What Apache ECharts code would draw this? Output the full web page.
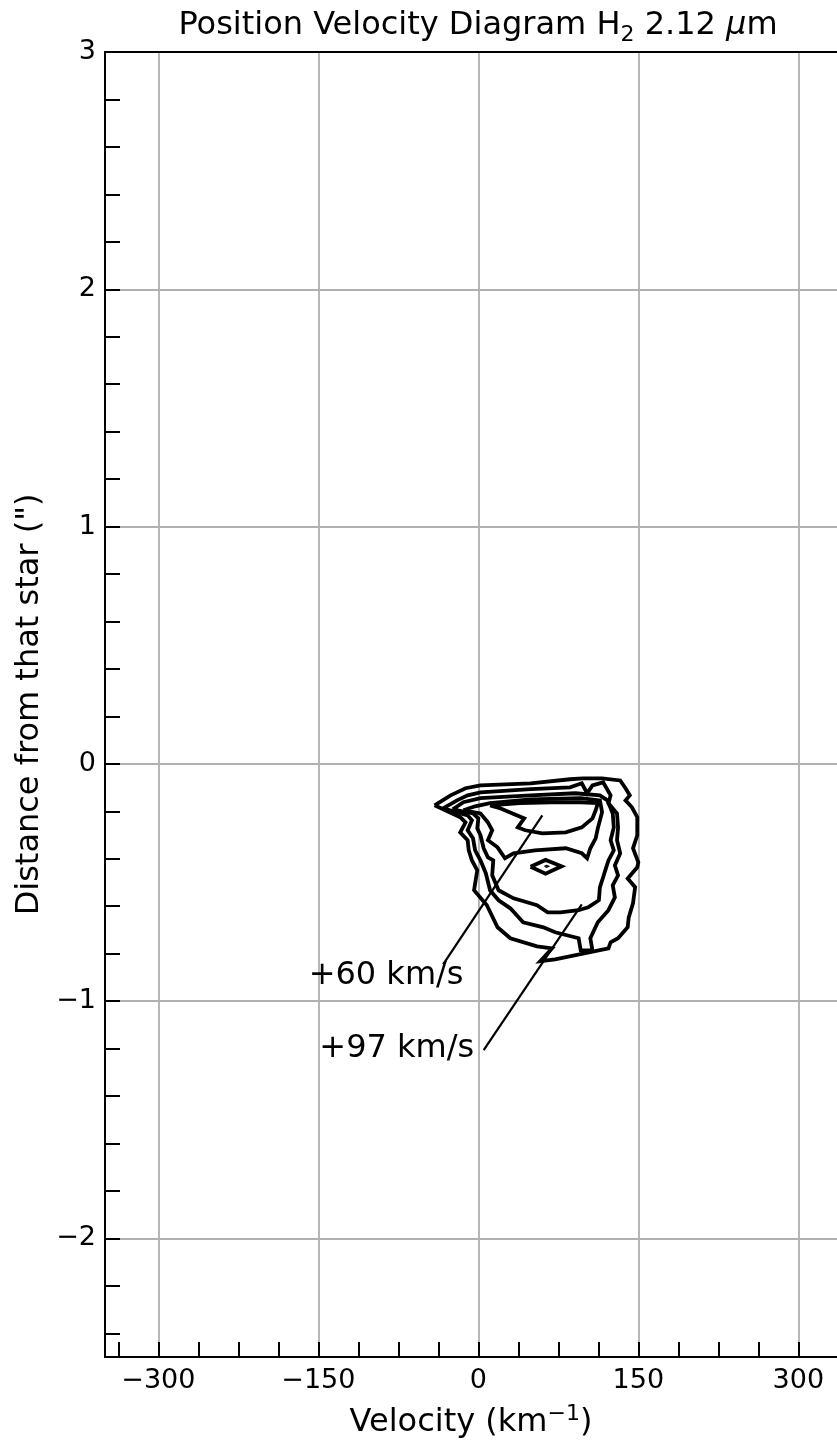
<!DOCTYPE html>
<html>
<head>
<meta charset="utf-8">
<title>Position Velocity Diagram</title>
<script src="https://cdn.jsdelivr.net/npm/echarts@6/dist/echarts.min.js"></script>
<style>
  html, body { margin: 0; padding: 0; background: #ffffff; }
  #chart { width: 837px; height: 1443px; }
</style>
</head>
<body>
<div id="chart"></div>
<script>
// Axis ticks and labels
const VELOCITY_TICKS = [-337.5, -300, -262.5, -225, -187.5, -150, -112.5, -75, -37.5, 0,
  37.5, 75, 112.5, 150, 187.5, 225, 262.5, 300];
const VELOCITY_LABELS = [-300, -150, 0, 150, 300];
const DISTANCE_TICKS = [3, 2.8, 2.6, 2.4, 2.2, 2, 1.8, 1.6, 1.4, 1.2, 1, 0.8, 0.6, 0.4, 0.2, 0,
  -0.2, -0.4, -0.6, -0.8, -1, -1.2, -1.4, -1.6, -1.8, -2, -2.2, -2.4];
const DISTANCE_LABELS = [-2, -1, 0, 1, 2, 3];

// H2 emission contours, [velocity km/s, offset arcsec], outermost level first
const CONTOUR_1 = [[-41, -0.175], [-26, -0.133], [-12, -0.103], [2, -0.091], [49, -0.082],
  [86, -0.065], [98, -0.061], [116, -0.061], [133, -0.070], [138, -0.103], [142, -0.133],
  [138, -0.154], [144, -0.183], [149, -0.225], [149, -0.301], [145, -0.356], [150, -0.415],
  [149, -0.436], [140, -0.483], [147, -0.520], [145, -0.588], [141, -0.647], [140, -0.689],
  [131, -0.735], [124, -0.752], [122, -0.778], [72, -0.824], [58, -0.832], [69, -0.778],
  [55, -0.769], [30, -0.735], [18, -0.689], [8, -0.596], [-4, -0.533], [-1, -0.449],
  [-6, -0.407], [-9, -0.365], [-10, -0.322], [-17, -0.289], [-12, -0.247], [-17, -0.225]];
const CONTOUR_2 = [[-33, -0.188], [-20, -0.154], [-10, -0.133], [2, -0.120], [49, -0.107],
  [86, -0.099], [97, -0.082], [102, -0.124], [107, -0.091], [117, -0.078], [124, -0.133],
  [122, -0.166], [130, -0.209], [131, -0.268], [130, -0.322], [133, -0.377], [128, -0.428],
  [131, -0.470], [126, -0.512], [128, -0.563], [122, -0.617], [112, -0.668], [105, -0.735],
  [107, -0.786], [96, -0.786], [94, -0.735], [72, -0.710], [61, -0.689], [42, -0.668],
  [30, -0.609], [19, -0.575], [11, -0.533], [7, -0.461], [2, -0.407], [-3, -0.365],
  [-5, -0.314], [-10, -0.280], [-6, -0.238], [-10, -0.217]];
const CONTOUR_3 = [[-24, -0.192], [-14, -0.162], [2, -0.145], [49, -0.133], [91, -0.124],
  [114, -0.133], [121, -0.154], [126, -0.209], [127, -0.268], [124, -0.322], [127, -0.365],
  [122, -0.407], [119, -0.449], [117, -0.478], [114, -0.520], [113, -0.575], [103, -0.605],
  [94, -0.617], [77, -0.626], [65, -0.626], [55, -0.596], [33, -0.567], [19, -0.533],
  [13, -0.470], [14, -0.407], [9, -0.394], [5, -0.356], [2, -0.301], [-1, -0.272],
  [0, -0.230], [-5, -0.209]];
const CONTOUR_4 = [[-14, -0.196], [2, -0.209], [9, -0.247], [13, -0.280], [9, -0.322],
  [18, -0.352], [25, -0.398], [33, -0.377], [53, -0.365], [82, -0.356], [97, -0.377],
  [102, -0.398], [105, -0.356], [110, -0.314], [112, -0.272], [116, -0.204], [114, -0.154],
  [96, -0.145], [49, -0.150], [11, -0.166], [-3, -0.179]];
const CONTOUR_5A = [[11, -0.175], [21, -0.188], [43, -0.230], [37, -0.268], [44, -0.280],
  [60, -0.293], [82, -0.289], [97, -0.268], [107, -0.230], [110, -0.196], [112, -0.166],
  [96, -0.162], [68, -0.162], [39, -0.166]];
const CONTOUR_5B = [[49, -0.434], [63, -0.405], [78, -0.432], [63, -0.463]];
const CONTOUR_6 = [[62, -0.432], [64, -0.428], [66, -0.432], [64, -0.436]];

// Annotations: label text, label anchor, pointer start and pointer tip
const NOTE_TEXT = ['+60 km/s', '+97 km/s'];
const NOTE_ANCHOR = [[-86, -0.896], [-76, -1.203]];
const NOTE_TAIL = [[-33, -0.845], [5, -1.207]];
const NOTE_TIP = [[60, -0.217], [97, -0.592]];

const FONT = 'DejaVu Sans';
const minus = v => String(v).replace('-', '\u2212');

const contourList = [
  { data: CONTOUR_1, width: 3.8 },
  { data: CONTOUR_2, width: 3.8 },
  { data: CONTOUR_3, width: 3.8 },
  { data: CONTOUR_4, width: 3.8 },
  { data: CONTOUR_5A, width: 3.8 },
  { data: CONTOUR_5B, width: 3.8 },
  { data: CONTOUR_6, width: 1.2 }
];

const series = [];
contourList.forEach((c, i) => {
  series.push({
    name: 'level ' + (i + 1),
    type: 'line',
    xAxisIndex: 0,
    yAxisIndex: 0,
    data: c.data.concat([c.data[0]]),
    symbol: 'none',
    smooth: false,
    clip: false,
    lineStyle: { color: '#000', width: c.width, join: 'miter' },
    z: 5
  });
});

NOTE_TEXT.forEach((t, i) => {
  series.push({
    name: 'pointer ' + (i + 1),
    type: 'line',
    xAxisIndex: 0,
    yAxisIndex: 0,
    data: [NOTE_TAIL[i], NOTE_TIP[i]],
    symbol: 'none',
    lineStyle: { color: '#000', width: 2.2 },
    z: 6
  });
});

series.push({
  name: 'notes',
  type: 'scatter',
  xAxisIndex: 0,
  yAxisIndex: 0,
  symbolSize: 1,
  itemStyle: { color: 'rgba(0,0,0,0)', opacity: 1 },
  data: NOTE_ANCHOR.map((p, i) => ({ value: p, name: NOTE_TEXT[i] })),
  label: {
    show: true,
    position: [0, 0],
    align: 'center',
    verticalAlign: 'middle',
    formatter: p => p.name,
    color: '#000',
    fontSize: 32,
    fontFamily: FONT
  },
  z: 7
});

const gridLine = { show: true, lineStyle: { color: '#b0b0b0', width: 1.8 } };
const spine = { show: true, onZero: false, lineStyle: { color: '#000', width: 2 } };
const noLine = { show: false, onZero: false };
const tickStyle = { color: '#000', width: 2 };

const option = {
  animation: false,
  backgroundColor: '#ffffff',
  textStyle: { fontFamily: FONT },
  title: {
    text: '{t|Position Velocity Diagram H}{s|2}{t| 2.12 }{m|\u03bc}{t|m}',
    left: 478,
    textAlign: 'center',
    top: 6,
    padding: 0,
    textStyle: {
      fontWeight: 'normal',
      rich: {
        t: { fontSize: 32, fontFamily: FONT, fontWeight: 'normal', color: '#000', lineHeight: 40 },
        s: { fontSize: 22, fontFamily: FONT, fontWeight: 'normal', color: '#000', lineHeight: 22, padding: [18, 0, 0, 0] },
        m: { fontSize: 32, fontFamily: FONT, fontWeight: 'normal', fontStyle: 'italic', color: '#000', lineHeight: 40 }
      }
    }
  },
  grid: { left: 105, right: 0, top: 52, bottom: 86, containLabel: false, outerBoundsMode: 'none' },
  xAxis: [
    {
      type: 'value', position: 'bottom', min: -350, max: 336.25,
      axisLine: spine,
      axisTick: { show: false, customValues: VELOCITY_LABELS },
      axisLabel: {
        customValues: VELOCITY_LABELS, formatter: minus, margin: 10,
        color: '#000', fontSize: 27, fontFamily: FONT
      },
      splitLine: gridLine,
      name: '{a|Velocity (km}{b|\u22121}{a|)}',
      nameLocation: 'middle',
      nameGap: 46,
      nameTextStyle: {
        rich: {
          a: { fontSize: 32, fontFamily: FONT, color: '#000', lineHeight: 40 },
          b: { fontSize: 22, fontFamily: FONT, color: '#000', lineHeight: 22, padding: [0, 0, 18, 0] }
        }
      }
    },
    {
      type: 'value', position: 'bottom', min: -350, max: 336.25,
      axisLine: noLine,
      axisTick: { show: true, inside: true, length: 15, lineStyle: tickStyle, customValues: VELOCITY_TICKS },
      axisLabel: { show: false },
      splitLine: { show: false }
    },
    {
      type: 'value', position: 'top', min: -350, max: 336.25,
      axisLine: spine,
      axisTick: { show: false },
      axisLabel: { show: false },
      splitLine: { show: false }
    }
  ],
  yAxis: [
    {
      type: 'value', position: 'left', min: -2.5, max: 3,
      axisLine: spine,
      axisTick: { show: false, customValues: DISTANCE_LABELS },
      axisLabel: {
        customValues: DISTANCE_LABELS, formatter: minus, margin: 9,
        padding: [6, 0, 0, 0],
        color: '#000', fontSize: 27, fontFamily: FONT
      },
      splitLine: gridLine,
      name: 'Distance from that star (")',
      nameLocation: 'middle',
      nameRotate: 90,
      nameGap: 58,
      nameTextStyle: { fontSize: 32, fontFamily: FONT, color: '#000' }
    },
    {
      type: 'value', position: 'left', min: -2.5, max: 3,
      axisLine: noLine,
      axisTick: { show: true, inside: true, length: 15, lineStyle: tickStyle, customValues: DISTANCE_TICKS },
      axisLabel: { show: false },
      splitLine: { show: false }
    }
  ],
  series: series
};

const chart = echarts.init(document.getElementById('chart'), null, { renderer: 'canvas' });
chart.setOption(option);
</script>
</body>
</html>
